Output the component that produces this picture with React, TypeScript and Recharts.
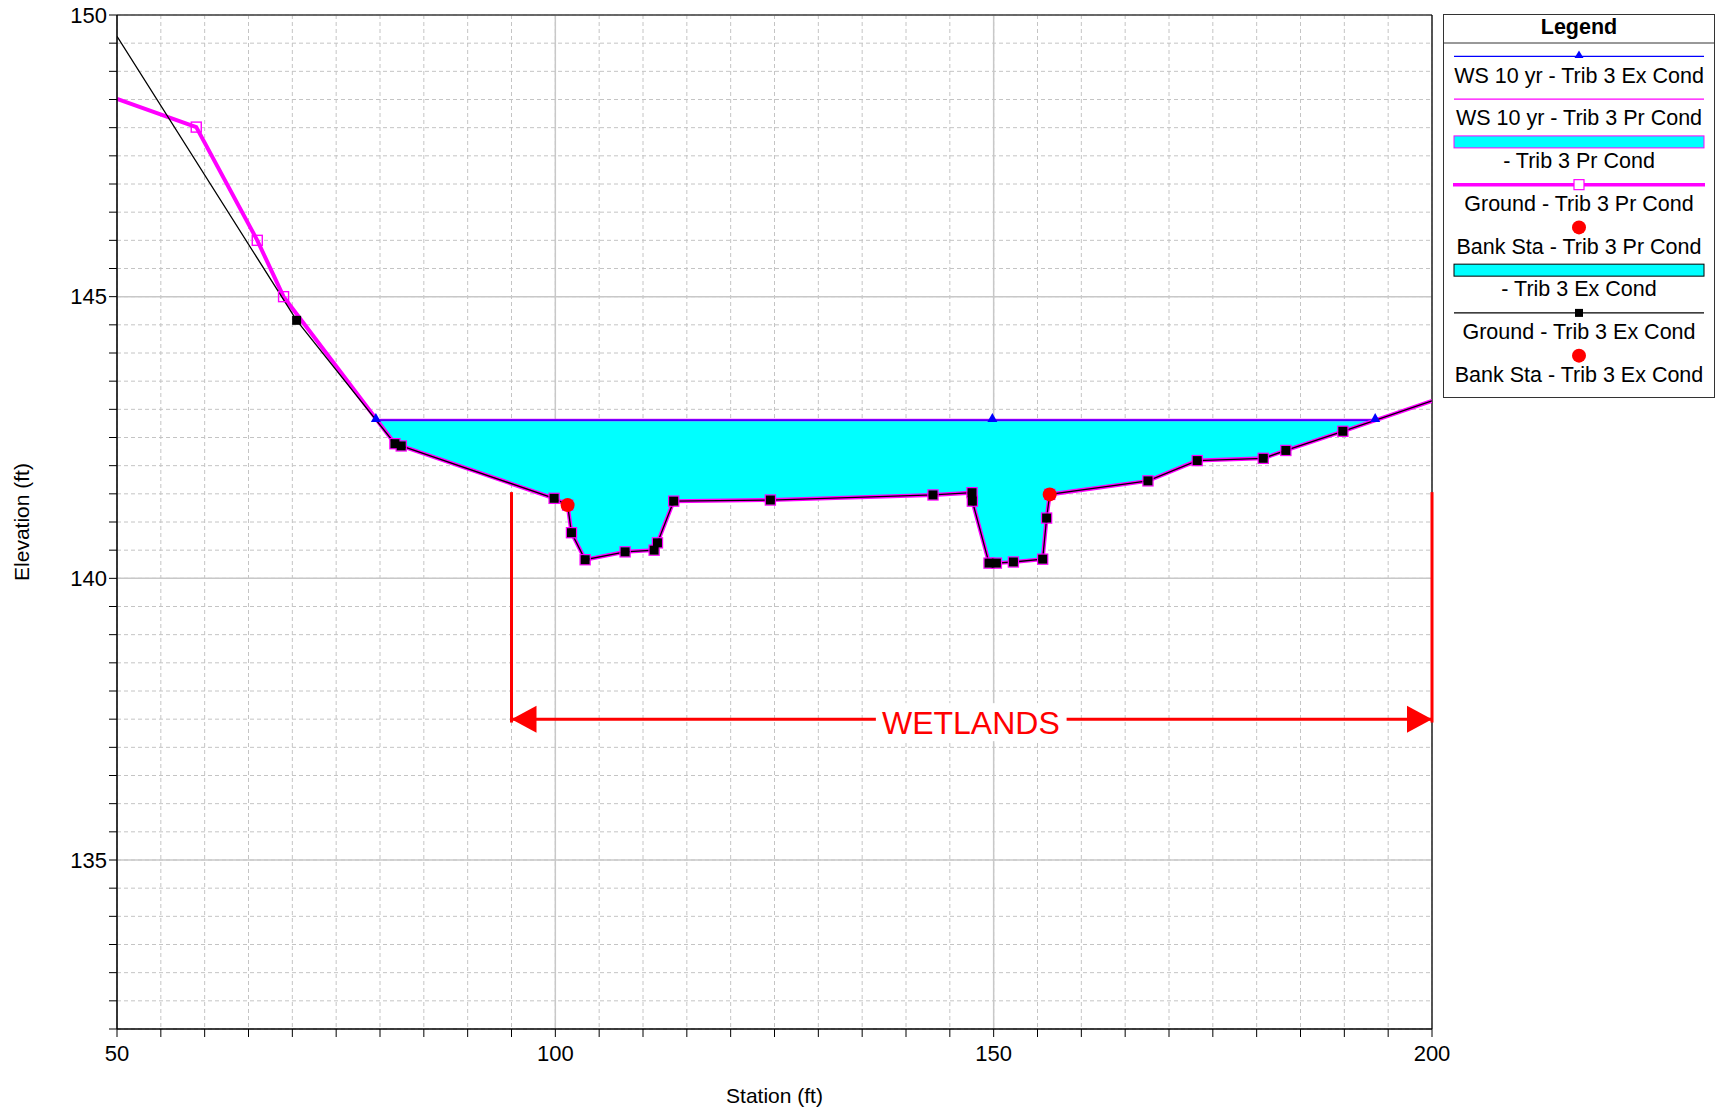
import React from 'react';
import {
  ComposedChart,
  Line,
  Area,
  Scatter,
  XAxis,
  YAxis,
  CartesianGrid,
  ReferenceLine,
  ReferenceDot,
} from 'recharts';

// ---------- data ----------
const exGroundStation = [50, 70.49, 81.7, 82.42, 99.86, 101.4, 101.84, 103.4, 107.96, 111.27, 111.65, 113.5, 124.53, 143.08, 147.53, 147.57, 149.47, 150.31, 152.25, 155.59, 156.04, 156.39, 167.6, 173.22, 180.75, 183.33, 189.83, 200];
const exGroundElev = [149.62, 144.58, 142.39, 142.35, 141.42, 141.3, 140.81, 140.33, 140.47, 140.5, 140.63, 141.37, 141.39, 141.48, 141.52, 141.37, 140.27, 140.27, 140.29, 140.34, 141.07, 141.49, 141.73, 142.09, 142.13, 142.27, 142.61, 143.15];

const prGroundStation = [50, 59.04, 66.0, 69.0, 81.7, 82.42, 99.86, 101.4, 101.84, 103.4, 107.96, 111.27, 111.65, 113.5, 124.53, 143.08, 147.53, 147.57, 149.47, 150.31, 152.25, 155.59, 156.04, 156.39, 167.6, 173.22, 180.75, 183.33, 189.83, 200];
const prGroundElev = [148.51, 148.01, 146.0, 145.0, 142.39, 142.35, 141.42, 141.3, 140.81, 140.33, 140.47, 140.5, 140.63, 141.37, 141.39, 141.48, 141.52, 141.37, 140.27, 140.27, 140.29, 140.34, 141.07, 141.49, 141.73, 142.09, 142.13, 142.27, 142.61, 143.15];

const wsStation = [79.53, 149.85, 193.52];
const wsElev = [142.81, 142.81, 142.81];

const bankStation = [101.4, 156.39];
const bankElev = [141.3, 141.49];

const xTicks = [50, 55, 60, 65, 70, 75, 80, 85, 90, 95, 100, 105, 110, 115, 120, 125, 130, 135, 140, 145, 150, 155, 160, 165, 170, 175, 180, 185, 190, 195, 200];
const xMajor = [50, 100, 150, 200];
const yTicks = [132, 132.5, 133, 133.5, 134, 134.5, 135, 135.5, 136, 136.5, 137, 137.5, 138, 138.5, 139, 139.5, 140, 140.5, 141, 141.5, 142, 142.5, 143, 143.5, 144, 144.5, 145, 145.5, 146, 146.5, 147, 147.5, 148, 148.5, 149, 149.5, 150];
const yMajor = [135, 140, 145, 150];

// wetlands annotation
const wetlandStations = [95, 200];
const wetlandTop = 141.53;
const wetlandBottom = 137.44;
const wetlandArrowElev = 137.5;
const wetlandGap = [136.66, 158.32];
const wetlandLabelStation = 147.4;
const wetlandLabel = 'WETLANDS';

const legendLabels = [
  'WS 10 yr - Trib 3 Ex Cond',
  'WS 10 yr - Trib 3 Pr Cond',
  '- Trib 3 Pr Cond',
  'Ground - Trib 3 Pr Cond',
  'Bank Sta - Trib 3 Pr Cond',
  '- Trib 3 Ex Cond',
  'Ground - Trib 3 Ex Cond',
  'Bank Sta - Trib 3 Ex Cond',
];

// ---------- tables ----------
const exGround = exGroundStation.map((x, i) => ({ x, y: exGroundElev[i] }));
const prGround = prGroundStation.map((x, i) => ({ x, y: prGroundElev[i] }));
const ws = wsStation.map((x, i) => ({ x, y: wsElev[i] }));
const bank = bankStation.map((x, i) => ({ x, y: bankElev[i] }));
const wsLeft = wsStation[0];
const wsRight = wsStation[wsStation.length - 1];
const fillData = [
  { x: wsLeft, range: [wsElev[0], wsElev[0]] },
  ...exGround.filter((p) => p.x > wsLeft && p.x < wsRight).map((p) => ({ x: p.x, range: [p.y, wsElev[0]] })),
  { x: wsRight, range: [wsElev[0], wsElev[0]] },
];

const FONT = '"Liberation Sans", Arial, Helvetica, sans-serif';

const inside = (p: any) => p && p.x > 50 && p.x < 200;

const BlackSquare = (props: any) => {
  const { cx, cy, payload, index } = props;
  if (!inside(payload) || cx == null) return <g key={'bs' + index} />;
  return <rect key={'bs' + index} x={cx - 4.5} y={cy - 4.5} width={9} height={9} fill="#000" />;
};
const PinkSquare = (props: any) => {
  const { cx, cy, payload, index } = props;
  if (!inside(payload) || cx == null) return <g key={'ps' + index} />;
  return <rect key={'ps' + index} x={cx - 5} y={cy - 5} width={10} height={10} fill="none" stroke="#FF00FF" strokeWidth={1.4} />;
};
const BlueTriangle = (props: any) => {
  const { cx, cy, index } = props;
  if (cx == null) return <g key={'bt' + index} />;
  return <polygon key={'bt' + index} points={`${cx},${cy - 7} ${cx - 5},${cy + 2} ${cx + 5},${cy + 2}`} fill="#0000FF" />;
};
const RedDot = (props: any) => {
  const { cx, cy } = props;
  return <circle cx={cx} cy={cy} r={7} fill="#FF0000" />;
};

const genVertical = (props: any) => {
  const { xAxis, offset } = props;
  if (xAxis && typeof xAxis.scale === 'function') {
    return xMajor.map((v) => xAxis.scale(v));
  }
  return xMajor.map((v) => offset.left + ((v - 50) / 150) * offset.width);
};
const genHorizontal = (props: any) => {
  const { yAxis, offset } = props;
  if (yAxis && typeof yAxis.scale === 'function') {
    return yMajor.map((v) => yAxis.scale(v));
  }
  return yMajor.map((v) => offset.top + ((150 - v) / 18) * offset.height);
};

const LeftArrow = (props: any) => {
  const { cx, cy } = props;
  return <polygon points={`${cx},${cy} ${cx + 25},${cy - 13.5} ${cx + 25},${cy + 13.5}`} fill="#FF0000" />;
};
const RightArrow = (props: any) => {
  const { cx, cy } = props;
  return <polygon points={`${cx},${cy} ${cx - 25},${cy - 13.5} ${cx - 25},${cy + 13.5}`} fill="#FF0000" />;
};
const WetlandLabel = (props: any) => {
  const { cx, cy } = props;
  return (
    <g>
      <rect x={cx - 95} y={cy - 16} width={190} height={38} fill="#fff" />
      <text x={cx} y={cy + 4} textAnchor="middle" dominantBaseline="central" fontSize={32} fill="#FF0000" fontFamily={FONT}>
        {wetlandLabel}
      </text>
    </g>
  );
};

const fmtX = (v: number) => (xMajor.includes(v) ? String(v) : '');
const fmtY = (v: number) => (yMajor.includes(v) ? String(v) : '');

const Legend = () => {
  const W = 272;
  const H = 384;
  const step = 42.75;
  const sym0 = 42.4;
  return (
    <svg width={W} height={H} style={{ position: 'absolute', left: 1443, top: 14 }}>
      <rect x={0.5} y={0.5} width={W - 1} height={H - 1} fill="#fff" stroke="#333" strokeWidth={1} />
      <text x={W / 2} y={13} textAnchor="middle" dominantBaseline="central" fontSize={21.5} fontWeight="bold" fontFamily={FONT} fill="#000">
        Legend
      </text>
      <line x1={0} x2={W} y1={29} y2={29} stroke="#333" strokeWidth={1} />
      {legendLabels.map((label, i) => {
        const sy = sym0 + i * step;
        const ty = sy + 19.3;
        let sym: React.ReactNode = null;
        if (i === 0) {
          sym = (
            <g>
              <line x1={11} x2={261} y1={sy} y2={sy} stroke="#0000FF" strokeWidth={1.3} />
              <polygon points={`${W / 2},${sy - 6} ${W / 2 - 4.5},${sy + 1.5} ${W / 2 + 4.5},${sy + 1.5}`} fill="#0000FF" />
            </g>
          );
        } else if (i === 1) {
          sym = <line x1={11} x2={261} y1={sy} y2={sy} stroke="#FF00FF" strokeWidth={1.3} />;
        } else if (i === 2) {
          sym = <rect x={11} y={sy - 6} width={250} height={12} fill="#00FFFF" stroke="#FF00FF" strokeWidth={1} />;
        } else if (i === 3) {
          sym = (
            <g>
              <line x1={10} x2={262} y1={sy} y2={sy} stroke="#FF00FF" strokeWidth={3.5} />
              <rect x={W / 2 - 5} y={sy - 5} width={10} height={10} fill="#fff" stroke="#FF00FF" strokeWidth={1.2} />
            </g>
          );
        } else if (i === 4 || i === 7) {
          sym = <circle cx={W / 2} cy={sy} r={7} fill="#FF0000" />;
        } else if (i === 5) {
          sym = <rect x={11} y={sy - 6} width={250} height={12} fill="#00FFFF" stroke="#000" strokeWidth={1} />;
        } else if (i === 6) {
          sym = (
            <g>
              <line x1={11} x2={261} y1={sy} y2={sy} stroke="#000" strokeWidth={1.2} />
              <rect x={W / 2 - 4} y={sy - 4} width={8} height={8} fill="#000" />
            </g>
          );
        }
        return (
          <g key={label}>
            {sym}
            <text x={W / 2} y={ty} textAnchor="middle" dominantBaseline="central" fontSize={21.5} fontFamily={FONT} fill="#000">
              {label}
            </text>
          </g>
        );
      })}
    </svg>
  );
};

export default function App() {
  return (
    <div style={{ position: 'absolute', left: 0, top: 0, width: 1717, height: 1113, background: '#fff', fontFamily: FONT }}>
      <ComposedChart width={1717} height={1113} margin={{ top: 15, right: 285, bottom: 54, left: 57 }}>
        <CartesianGrid stroke="#c4c4c4" strokeDasharray="4 3" strokeWidth={1} />
        <CartesianGrid
          stroke="#c8c8c8"
          strokeWidth={1.5}
          verticalCoordinatesGenerator={genVertical}
          horizontalCoordinatesGenerator={genHorizontal}
        />
        <XAxis
          dataKey="x"
          type="number"
          domain={[50, 200]}
          ticks={xTicks}
          interval={0}
          allowDataOverflow
          tickFormatter={fmtX}
          tickSize={8}
          tickMargin={8}
          height={30}
          stroke="#000"
          axisLine={{ stroke: '#000', strokeWidth: 1.5 }}
          tickLine={{ stroke: '#000' }}
          tick={{ fontSize: 22, fill: '#000', fontFamily: FONT }}
          label={{
            content: (p: any) => {
              const vb = p.viewBox || {};
              return (
                <text x={vb.x + vb.width / 2} y={vb.y + 66} textAnchor="middle" dominantBaseline="central" fontSize={21} fontFamily={FONT} fill="#000">
                  Station (ft)
                </text>
              );
            },
          }}
        />
        <YAxis
          type="number"
          domain={[132, 150]}
          ticks={yTicks}
          interval={0}
          allowDataOverflow
          tickFormatter={fmtY}
          tickSize={8}
          width={60}
          stroke="#000"
          axisLine={{ stroke: '#000', strokeWidth: 1.5 }}
          tickLine={{ stroke: '#000' }}
          tick={{ fontSize: 22, fill: '#000', fontFamily: FONT }}
          label={{
            content: (p: any) => {
              const vb = p.viewBox || {};
              const cx = vb.x - 36;
              const cy = vb.y + vb.height / 2;
              return (
                <text x={cx} y={cy} transform={`rotate(-90 ${cx} ${cy})`} textAnchor="middle" dominantBaseline="central" fontSize={21} fontFamily={FONT} fill="#000">
                  Elevation (ft)
                </text>
              );
            },
          }}
        />
        <ReferenceLine y={150} stroke="#000" strokeWidth={1.2} />
        <ReferenceLine x={200} stroke="#000" strokeWidth={1.2} />

        <Area
          data={fillData}
          dataKey="range"
          type="linear"
          fill="#00FFFF"
          fillOpacity={1}
          stroke="none"
          isAnimationActive={false}
          dot={false}
          activeDot={false}
        />
        <Line data={ws} dataKey="y" type="linear" stroke="#FF00FF" strokeWidth={2.5} dot={false} activeDot={false} isAnimationActive={false} />
        <Line data={ws} dataKey="y" type="linear" stroke="#0000FF" strokeWidth={1.3} dot={BlueTriangle} activeDot={false} isAnimationActive={false} />
        <Line data={prGround} dataKey="y" type="linear" stroke="#FF00FF" strokeWidth={4} dot={PinkSquare} activeDot={false} isAnimationActive={false} />
        <Line data={exGround} dataKey="y" type="linear" stroke="#000" strokeWidth={1.3} dot={BlackSquare} activeDot={false} isAnimationActive={false} />
        <Scatter data={bank} dataKey="y" fill="#FF0000" shape={RedDot} isAnimationActive={false} />

        {wetlandStations.map((s) => (
          <ReferenceLine
            key={'wv' + s}
            segment={[
              { x: s, y: wetlandTop },
              { x: s, y: wetlandBottom },
            ]}
            stroke="#FF0000"
            strokeWidth={3}
          />
        ))}
        <ReferenceLine
          segment={[
            { x: wetlandStations[0], y: wetlandArrowElev },
            { x: wetlandGap[0], y: wetlandArrowElev },
          ]}
          stroke="#FF0000"
          strokeWidth={3}
        />
        <ReferenceLine
          segment={[
            { x: wetlandGap[1], y: wetlandArrowElev },
            { x: wetlandStations[1], y: wetlandArrowElev },
          ]}
          stroke="#FF0000"
          strokeWidth={3}
        />
        <ReferenceDot x={wetlandStations[0]} y={wetlandArrowElev} shape={LeftArrow} />
        <ReferenceDot x={wetlandStations[1]} y={wetlandArrowElev} shape={RightArrow} />
        <ReferenceDot x={wetlandLabelStation} y={wetlandArrowElev} shape={WetlandLabel} />
      </ComposedChart>
      <Legend />
    </div>
  );
}
